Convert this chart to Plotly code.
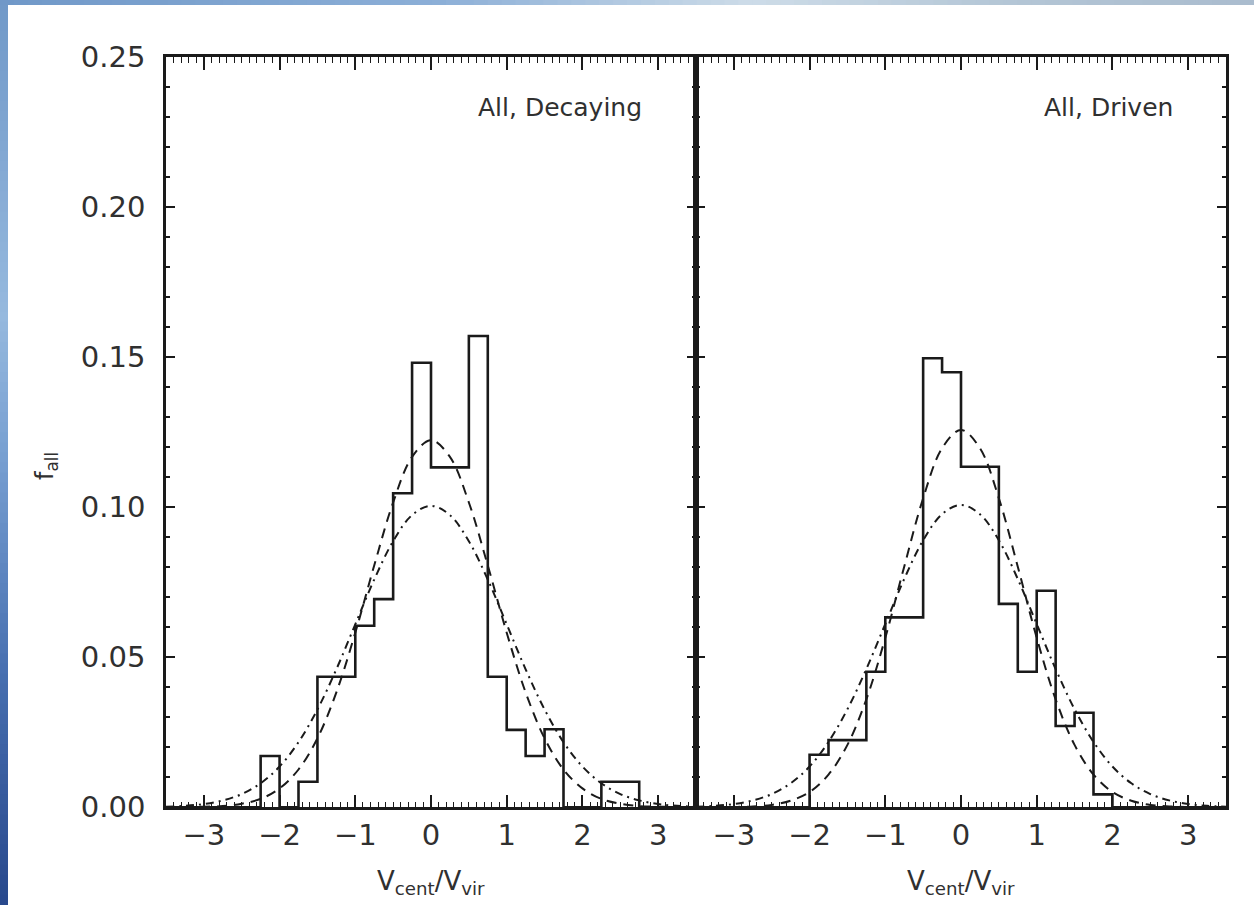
import plotly.graph_objects as go

# ---------------- data ----------------
bin_edges = [-3.5, -3.25, -3.0, -2.75, -2.5, -2.25, -2.0, -1.75, -1.5, -1.25,
             -1.0, -0.75, -0.5, -0.25, 0.0, 0.25, 0.5, 0.75, 1.0, 1.25,
             1.5, 1.75, 2.0, 2.25, 2.5, 2.75, 3.0, 3.25, 3.5]

decaying_hist = [0.0, 0.0, 0.0, 0.0, 0.0, 0.0171, 0.0, 0.0085, 0.0435, 0.0435,
                 0.0605, 0.0694, 0.1047, 0.1482, 0.1133, 0.1133, 0.1571, 0.0435, 0.0258, 0.0171,
                 0.0260, 0.0, 0.0, 0.0085, 0.0085, 0.0, 0.0, 0.0]

driven_hist = [0.0, 0.0, 0.0, 0.0, 0.0, 0.0, 0.0175, 0.0224, 0.0224, 0.0452,
               0.0633, 0.0633, 0.1497, 0.1450, 0.1135, 0.1135, 0.0678, 0.0452, 0.0722, 0.0271,
               0.0315, 0.0043, 0.0, 0.0, 0.0, 0.0, 0.0, 0.0]

curve_x = [-3.5, -3.25, -3.0, -2.75, -2.5, -2.25, -2.0, -1.75, -1.5, -1.25,
           -1.0, -0.75, -0.5, -0.25, 0.0, 0.25, 0.5, 0.75, 1.0, 1.25,
           1.5, 1.75, 2.0, 2.25, 2.5, 2.75, 3.0, 3.25, 3.5]

decaying_dashed = [0.0000, 0.0001, 0.0002, 0.0004, 0.0012, 0.0028, 0.0063, 0.0126, 0.0230, 0.0383,
                   0.0582, 0.0806, 0.1016, 0.1168, 0.1224, 0.1168, 0.1016, 0.0806, 0.0582, 0.0383,
                   0.0230, 0.0126, 0.0063, 0.0028, 0.0012, 0.0004, 0.0002, 0.0001, 0.0000]

decaying_dashdot = [0.0002, 0.0005, 0.0011, 0.0023, 0.0044, 0.0080, 0.0136, 0.0217, 0.0326, 0.0460,
                    0.0610, 0.0759, 0.0887, 0.0974, 0.1005, 0.0974, 0.0887, 0.0759, 0.0610, 0.0460,
                    0.0326, 0.0217, 0.0136, 0.0080, 0.0044, 0.0023, 0.0011, 0.0005, 0.0002]

driven_dashed = [0.0000, 0.0000, 0.0001, 0.0003, 0.0008, 0.0022, 0.0051, 0.0109, 0.0208, 0.0360,
                 0.0565, 0.0802, 0.1030, 0.1197, 0.1258, 0.1197, 0.1030, 0.0802, 0.0565, 0.0360,
                 0.0208, 0.0109, 0.0051, 0.0022, 0.0008, 0.0003, 0.0001, 0.0000, 0.0000]

driven_dashdot = [0.0002, 0.0005, 0.0011, 0.0023, 0.0044, 0.0080, 0.0136, 0.0218, 0.0327, 0.0461,
                  0.0611, 0.0761, 0.0890, 0.0977, 0.1008, 0.0977, 0.0890, 0.0761, 0.0611, 0.0461,
                  0.0327, 0.0218, 0.0136, 0.0080, 0.0044, 0.0023, 0.0011, 0.0005, 0.0002]

panel_labels = ["All, Decaying", "All, Driven"]
x_tick_vals = [-3, -2, -1, 0, 1, 2, 3]
x_tick_text = ["\u22123", "\u22122", "\u22121", "0", "1", "2", "3"]
y_tick_vals = [0.0, 0.05, 0.10, 0.15, 0.20, 0.25]

# ---------------- figure ----------------
W, H = 1254, 905
FONT = "DejaVu Sans"
INK = "#1a1a1a"
TXT = "#303030"

fig = go.Figure()

panels = [("x", "y", decaying_hist, decaying_dashed, decaying_dashdot),
          ("x2", "y2", driven_hist, driven_dashed, driven_dashdot)]

for xa, ya, hist, dsh, dd in panels:
    fig.add_trace(go.Scatter(x=curve_x, y=dd, mode="lines",
                             line=dict(shape="spline", color=INK, width=2.0, dash="8px,5px,2px,5px"),
                             xaxis=xa, yaxis=ya, showlegend=False, hoverinfo="skip"))
    fig.add_trace(go.Scatter(x=curve_x, y=dsh, mode="lines",
                             line=dict(shape="spline", color=INK, width=2.0, dash="10px,7px"),
                             xaxis=xa, yaxis=ya, showlegend=False, hoverinfo="skip"))
    xs = [bin_edges[0]] + list(bin_edges)
    ys = [0.0] + list(hist) + [0.0]
    fig.add_trace(go.Scatter(x=xs, y=ys, mode="lines",
                             line=dict(shape="hv", color=INK, width=2.6),
                             xaxis=xa, yaxis=ya, hoverinfo="skip", showlegend=False))

xd1 = [166 / W, 696 / W]
xd2 = [696 / W, 1226 / W]
yd = [1 - 807.3 / H, 1 - 57.3 / H]

common_x = dict(range=[-3.5, 3.5], tickmode="array", tickvals=x_tick_vals, ticktext=x_tick_text,
                ticks="inside", ticklen=13, tickwidth=1.6, tickcolor=INK,
                minor=dict(dtick=0.1, tick0=0, ticks="inside", ticklen=6, tickwidth=1.3, tickcolor=INK),
                showline=True, linewidth=2.6, linecolor=INK, mirror="ticks",
                showgrid=False, zeroline=False, fixedrange=True, automargin=False,
                ticklabelstandoff=0,
                tickfont=dict(family=FONT, size=29, color=TXT))

common_y = dict(domain=yd, range=[0, 0.25], tickmode="array", tickvals=y_tick_vals,
                ticks="inside", ticklen=9, tickwidth=1.6, tickcolor=INK,
                minor=dict(dtick=0.01, tick0=0, ticks="inside", ticklen=4, tickwidth=1.6, tickcolor=INK),
                showline=True, linewidth=2.6, linecolor=INK, mirror="ticks",
                showgrid=False, zeroline=False, fixedrange=True, automargin=False)

fig.update_layout(
    width=W, height=H, margin=dict(l=0, r=0, t=0, b=0, pad=0),
    paper_bgcolor="white", plot_bgcolor="white",
    xaxis=dict(domain=xd1, anchor="y", **common_x),
    xaxis2=dict(domain=xd2, anchor="y2", **common_x),
    yaxis=dict(anchor="x", tickformat=".2f", ticklabelstandoff=12,
               tickfont=dict(family=FONT, size=29, color=TXT), **common_y),
    yaxis2=dict(anchor="x2", showticklabels=False, **common_y),
)

# ---------------- annotations ----------------
fig.add_annotation(text=panel_labels[0], x=644 / W, y=1 - 108 / H, xref="paper", yref="paper",
                   xanchor="right", yanchor="middle", showarrow=False,
                   font=dict(family=FONT, size=25, color=TXT))
fig.add_annotation(text=panel_labels[1], x=1175 / W, y=1 - 108 / H, xref="paper", yref="paper",
                   xanchor="right", yanchor="middle", showarrow=False,
                   font=dict(family=FONT, size=25, color=TXT))
for cx in [431, 961]:
    fig.add_annotation(text="V<sub>cent</sub>/V<sub>vir</sub>", x=cx / W, y=1 - 882 / H,
                       xref="paper", yref="paper", xanchor="center", yanchor="middle",
                       showarrow=False, font=dict(family=FONT, size=26, color=TXT))
fig.add_annotation(text="f<sub>all</sub>", x=46 / W, y=1 - 466 / H, xref="paper", yref="paper",
                   xanchor="center", yanchor="middle", textangle=-90, showarrow=False,
                   font=dict(family=FONT, size=24, color=TXT))

# ---------------- blue frame strips (decoration) ----------------
def lerp(c1, c2, t):
    return "#%02x%02x%02x" % tuple(int(round(a + (b - a) * t)) for a, b in zip(c1, c2))

left_stops = [(0.0, (112, 152, 200)), (0.35, (150, 185, 222)), (0.5, (120, 160, 210)),
              (0.75, (70, 110, 175)), (1.0, (40, 72, 140))]
top_stops = [(0.0, (112, 152, 200)), (0.35, (140, 175, 215)), (0.6, (205, 220, 232)),
             (0.8, (180, 198, 214)), (1.0, (170, 188, 206))]


def sample(stops, t):
    for (t0, c0), (t1, c1) in zip(stops[:-1], stops[1:]):
        if t0 <= t <= t1:
            return lerp(c0, c1, (t - t0) / (t1 - t0))
    return lerp(stops[-1][1], stops[-1][1], 0)

N = 90
ov = 0.004
for i in range(N):
    t = (i + 0.5) / N
    fig.add_shape(type="rect", xref="paper", yref="paper", x0=0, x1=8 / W,
                  y0=max(0, 1 - (i + 1) / N - ov), y1=1 - i / N, line=dict(width=0),
                  fillcolor=sample(left_stops, t), layer="above")
    fig.add_shape(type="rect", xref="paper", yref="paper", x0=i / N, x1=min(1, (i + 1) / N + ov),
                  y0=1 - 5 / H, y1=1, line=dict(width=0),
                  fillcolor=sample(top_stops, t), layer="above")

fig.write_html("out.html")
